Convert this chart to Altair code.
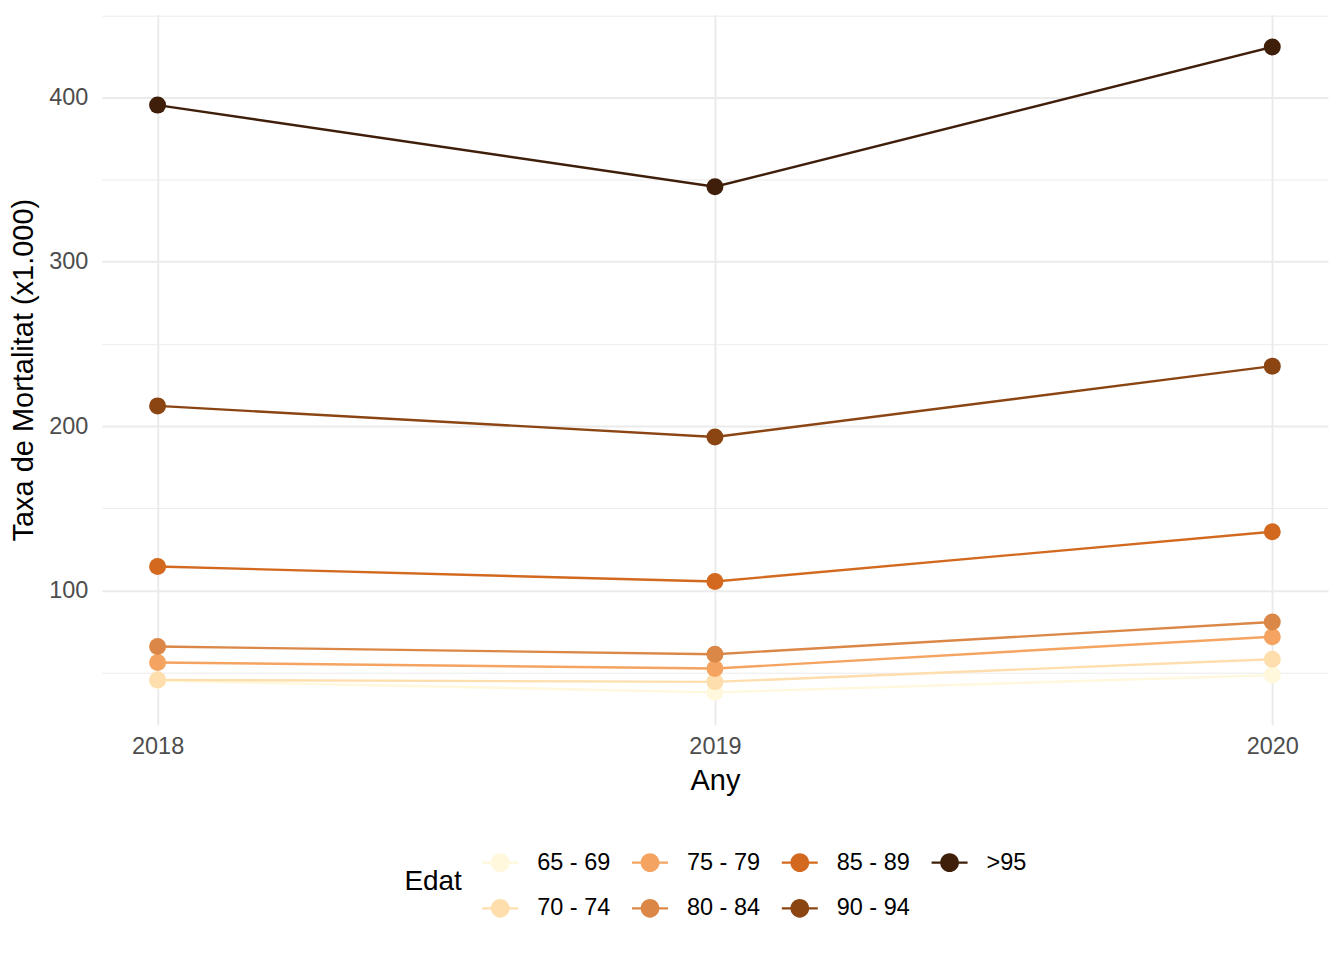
import altair as alt
import pandas as pd

years = [2018, 2019, 2020]
groups = ["65 - 69", "70 - 74", "75 - 79", "80 - 84", "85 - 89", "90 - 94", ">95"]
colors = ["#FFF8DC", "#FFDEAD", "#F4A460", "#DB8747", "#D2691E", "#8B4513", "#3F1F0A"]

v_65_69 = [45.0, 37.9, 48.4]
v_70_74 = [45.5, 44.3, 58.1]
v_75_79 = [56.1, 52.4, 71.8]
v_80_84 = [65.8, 61.1, 80.7]
v_85_89 = [114.5, 105.4, 135.7]
v_90_94 = [212.3, 193.4, 236.5]
v_95 = [395.4, 345.7, 430.8]
series = [v_65_69, v_70_74, v_75_79, v_80_84, v_85_89, v_90_94, v_95]

rows = []
for i, (g, vals) in enumerate(zip(groups, series)):
    for y, v in zip(years, vals):
        rows.append({"Any": y, "Taxa": v, "Edat": g, "ord": i})
df = pd.DataFrame(rows)

lo, hi = df["Taxa"].min(), df["Taxa"].max()
pad = 0.05 * (hi - lo)
ydom = [lo - pad, hi + pad]
xdom = [2018 - 0.1, 2020 + 0.1]

# legend filled column-major (ggplot byrow=FALSE)
leg_order = [0, 2, 4, 6, 1, 3, 5]
leg_domain = [groups[i] for i in leg_order]
leg_range = [colors[i] for i in leg_order]

FONT = "Liberation Sans"
legend_symbol = ("M-1,-0.06L1,-0.06L1,0.06L-1,0.06Z "
                 "M0.52,0A0.52,0.52,0,1,1,-0.52,0A0.52,0.52,0,1,1,0.52,0Z")

x_enc = alt.X("Any:Q", title="Any",
              scale=alt.Scale(domain=xdom, nice=False, zero=False),
              axis=alt.Axis(values=[2018, 2018.5, 2019, 2019.5, 2020], format="d",
                            labelExpr="datum.value % 1 === 0 ? datum.label : ''",
                            gridWidth={"condition": {"test": "datum.value % 1 === 0", "value": 2}, "value": 1},
                            labelPadding=10, titlePadding=8))
y_enc = alt.Y("Taxa:Q", title="Taxa de Mortalitat (x1.000)",
              scale=alt.Scale(domain=ydom, nice=False, zero=False),
              axis=alt.Axis(values=[50, 100, 150, 200, 250, 300, 350, 400, 450], format="d",
                            labelExpr="datum.value % 100 === 0 ? datum.label : ''",
                            gridWidth={"condition": {"test": "datum.value % 100 === 0", "value": 2}, "value": 1},
                            labelPadding=14, titlePadding=10))

lines = alt.Chart(df).mark_line(strokeWidth=2.4).encode(
    x=x_enc, y=y_enc,
    stroke=alt.Stroke("Edat:N", scale=alt.Scale(domain=groups, range=colors), legend=None),
    detail="Edat:N",
)

points = alt.Chart(df).mark_circle(size=290, opacity=1).encode(
    x=x_enc, y=y_enc,
    fill=alt.Fill("Edat:N", scale=alt.Scale(domain=leg_domain, range=leg_range),
                  legend=alt.Legend(title="Edat", orient="none", legendX=303, legendY=831,
                                    direction="horizontal", columns=4,
                                    titleOrient="left", titleAnchor="middle", titleBaseline="middle",
                                    titlePadding=20, titleFontSize=28, titleFontWeight="normal",
                                    titleColor="black", titleFont=FONT,
                                    labelFontSize=23.5, labelColor="black", labelFont=FONT,
                                    labelOffset=19, columnPadding=21, rowPadding=16,
                                    symbolType=legend_symbol, symbolSize=1296,
                                    symbolStrokeWidth=0, symbolOpacity=1, padding=0)),
    order=alt.Order("ord:Q"),
)

chart = alt.layer(lines, points).properties(
    width=1228, height=711,
    padding={"left": 94, "top": 6, "right": 8, "bottom": 220},
    autosize=alt.AutoSizeParams(type="none"),
).configure_view(stroke=None).configure_axis(
    domain=False, ticks=False, gridColor="#EBEBEB",
    labelFont=FONT, labelFontSize=23.5, labelColor="#4D4D4D",
    titleFont=FONT, titleFontSize=29, titleColor="black", titleFontWeight="normal",
)

chart.save("out.html", embed_options={"renderer": "svg", "actions": False})
